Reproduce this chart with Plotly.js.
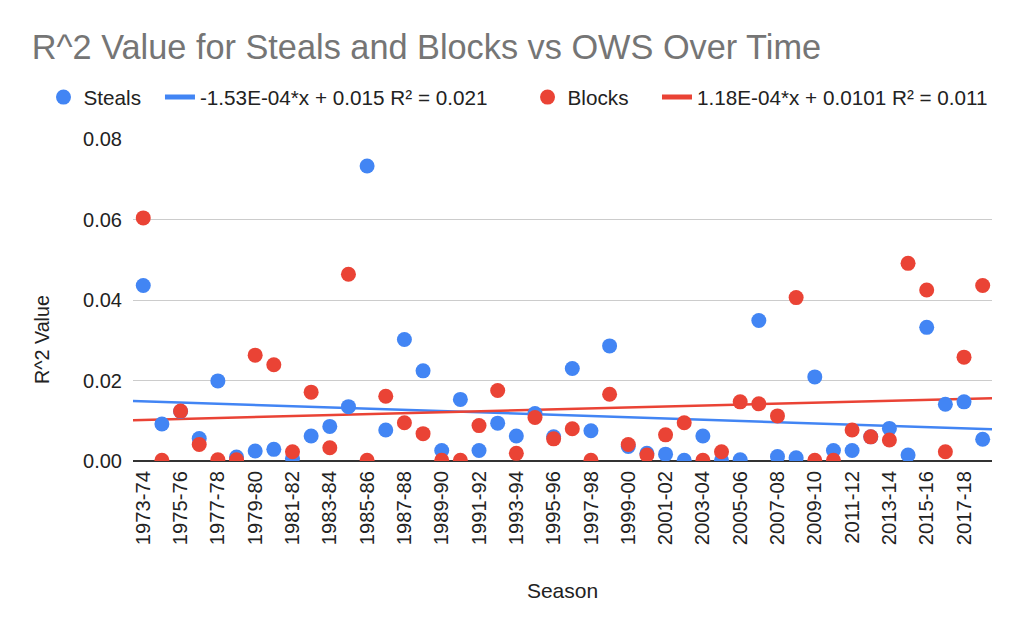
<!DOCTYPE html>
<html>
<head>
<meta charset="utf-8">
<script src="https://cdn.plot.ly/plotly-3.0.1.min.js"></script>
<style>html,body{margin:0;padding:0;background:#fff;}#chart{width:1024px;height:633px;}</style>
</head>
<body>
<div id="chart"></div>
<script>
const seasons = ["1973-74","1974-75","1975-76","1976-77","1977-78","1978-79","1979-80","1980-81","1981-82","1982-83",
  "1983-84","1984-85","1985-86","1986-87","1987-88","1988-89","1989-90","1990-91","1991-92","1992-93",
  "1993-94","1994-95","1995-96","1996-97","1997-98","1998-99","1999-00","2000-01","2001-02","2002-03",
  "2003-04","2004-05","2005-06","2006-07","2007-08","2008-09","2009-10","2010-11","2011-12","2012-13",
  "2013-14","2014-15","2015-16","2016-17","2017-18","2018-19"];
const steals = [0.0436,0.0092,0.0123,0.0056,0.0199,0.0010,0.0025,0.0029,0.0007,0.0062,
  0.0086,0.0135,0.0733,0.0077,0.0302,0.0224,0.0026,0.0153,0.0026,0.0094,
  0.0062,0.0118,0.0060,0.0230,0.0075,0.0286,0.0036,0.0019,0.0017,0.0002,
  0.0062,0.0002,0.0003,0.0349,0.0011,0.0008,0.0209,0.0026,0.0026,0.0060,
  0.0081,0.0015,0.0332,0.0141,0.0147,0.0054];
const blocks = [0.0604,0.0002,0.0124,0.0041,0.0003,0.0003,0.0263,0.0239,0.0023,0.0171,
  0.0033,0.0464,0.0002,0.0161,0.0095,0.0068,0.0002,0.0002,0.0088,0.0175,
  0.0019,0.0108,0.0055,0.0080,0.0002,0.0166,0.0041,0.0015,0.0065,0.0095,
  0.0002,0.0023,0.0147,0.0142,0.0112,0.0406,0.0002,0.0002,0.0077,0.0060,
  0.0052,0.0491,0.0425,0.0023,0.0258,0.0436];
const stealsTrend = {slope: -1.53e-4, intercept: 0.015, label: "-1.53E-04*x + 0.015 R\u00b2 = 0.021"};
const blocksTrend = {slope: 1.18e-4, intercept: 0.0101, label: "1.18E-04*x + 0.0101 R\u00b2 = 0.011"};
const yTicks = [0, 0.02, 0.04, 0.06, 0.08];

const BLUE = "#4285F4", RED = "#EA4335";
const FONT = "Liberation Sans, Arial, sans-serif";
const idx = seasons.map((s, i) => i);
const xRange = [-0.55, seasons.length - 0.5];
const tickIdx = idx.filter(i => i % 2 === 0);

function trendTrace(t, color, legendId) {
  const xs = xRange.slice();
  return {
    x: xs, y: xs.map(x => t.slope * (x + 1) + t.intercept),
    mode: "lines", type: "scatter", name: t.label, legend: legendId,
    line: {color: color, width: 2.5}, hoverinfo: "skip"
  };
}

const data = [
  trendTrace(stealsTrend, BLUE, "legend2"),
  trendTrace(blocksTrend, RED, "legend4"),
  {x: idx, y: steals, mode: "markers", type: "scatter", name: "Steals", legend: "legend",
   marker: {color: BLUE, size: 15}, text: seasons},
  {x: idx, y: blocks, mode: "markers", type: "scatter", name: "Blocks", legend: "legend3",
   marker: {color: RED, size: 15}, text: seasons}
];

function legendAt(x, sizing) {
  return {orientation: "h", x: x, xanchor: "left", y: 1.13, yanchor: "middle",
    bgcolor: "rgba(0,0,0,0)", font: {family: FONT, size: 20.7, color: "#222"}, itemsizing: sizing};
}

const layout = {
  width: 1024, height: 633,
  paper_bgcolor: "#fff", plot_bgcolor: "#fff",
  margin: {l: 133, r: 32, t: 139, b: 172},
  font: {family: FONT, color: "#222", size: 20},
  title: {text: "R^2 Value for Steals and Blocks vs OWS Over Time", xref: "container", yref: "container",
    x: 0.031, xanchor: "left", y: 0.926, yanchor: "middle",
    font: {family: FONT, size: 34.3, color: "#757575"}},
  showlegend: true,
  legend: legendAt(-0.1042, "trace"),
  legend2: legendAt(0.0314, "constant"),
  legend3: legendAt(0.4593, "trace"),
  legend4: legendAt(0.610, "constant"),
  xaxis: {range: xRange, tickmode: "array", tickvals: tickIdx, ticktext: tickIdx.map(i => seasons[i]),
    tickangle: -90, showgrid: false, zeroline: false, showline: false, ticks: "", ticklabelstandoff: 5,
    tickfont: {family: FONT, size: 20.2, color: "#222"},
    title: {text: "Season", font: {family: FONT, size: 21, color: "#222"}, standoff: 39}},
  yaxis: {range: [0, 0.08], tickmode: "array", tickvals: yTicks, tickformat: ".2f",
    showgrid: true, gridcolor: "#cccccc", gridwidth: 1, zeroline: true, zerolinecolor: "#333", zerolinewidth: 2,
    ticks: "", ticklabelstandoff: 10, tickfont: {family: FONT, size: 20, color: "#222"}},
  annotations: [{text: "R^2 Value", xref: "paper", yref: "paper", x: -0.106, y: 0.379,
    xanchor: "center", yanchor: "middle", textangle: -90, showarrow: false,
    font: {family: FONT, size: 19.7, color: "#222"}}]
};

Plotly.newPlot("chart", data, layout, {displayModeBar: false, staticPlot: true});
</script>
</body>
</html>
